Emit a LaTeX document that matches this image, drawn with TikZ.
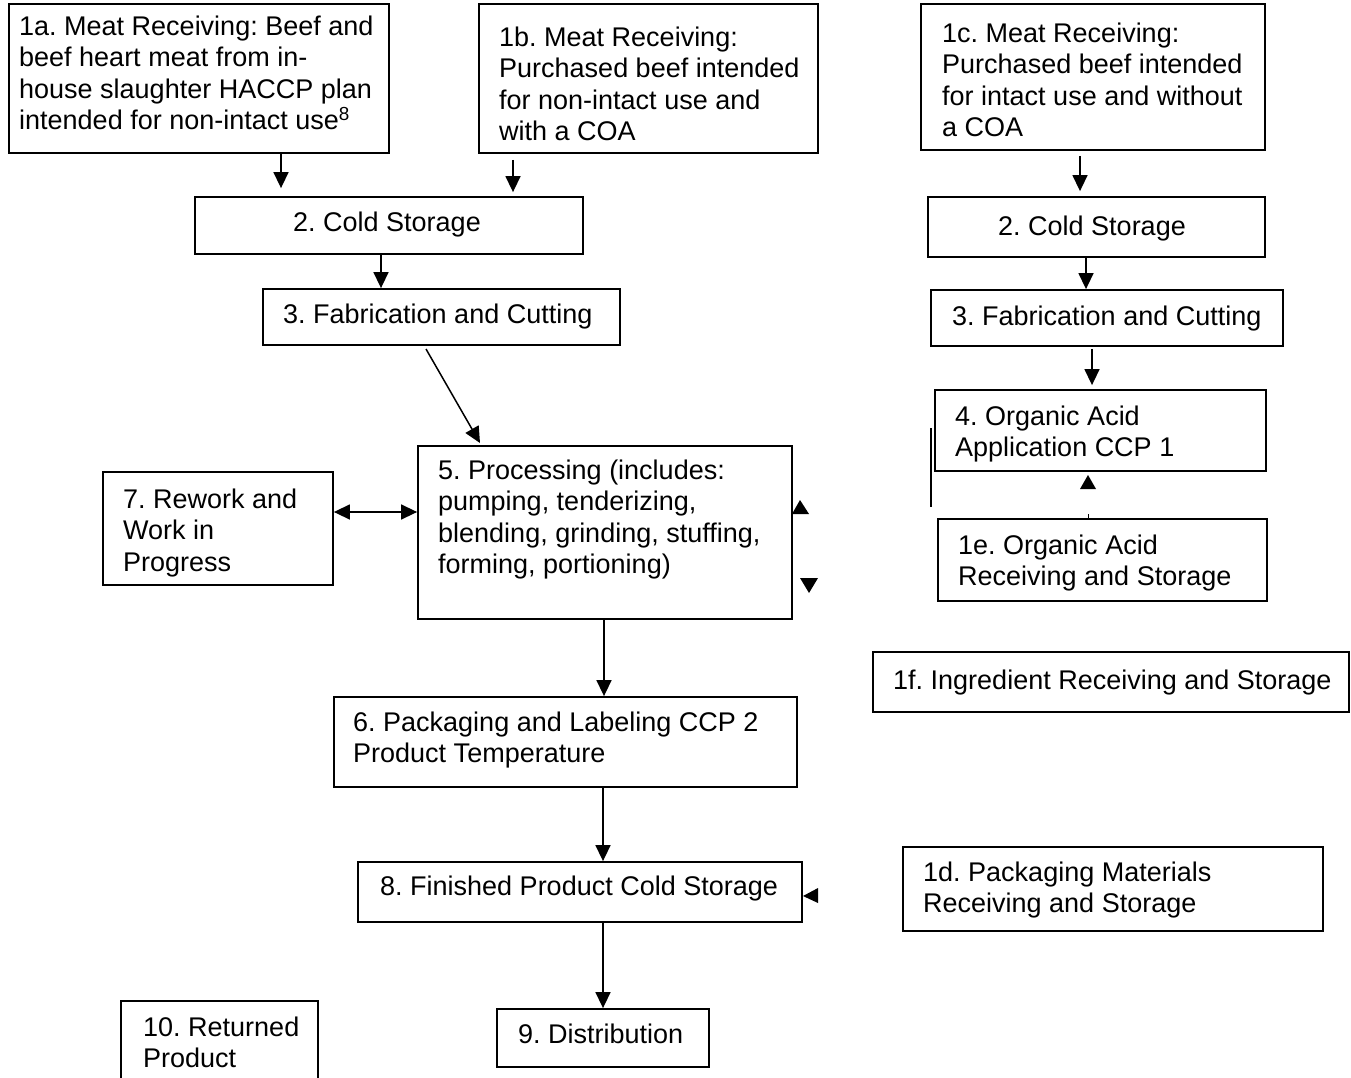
\documentclass[tikz,border=0pt]{standalone}
\usepackage{fontspec}
\setmainfont{Liberation Sans}
\usetikzlibrary{arrows.meta}
\newcommand\fl{\rule{0pt}{20pt}}
\frenchspacing
\tikzset{
  box/.style={draw, line width=1.8pt, inner sep=0pt},
  txt/.style={inner sep=0pt, anchor=north west, align=left, font=\fontsize{27}{31.5}\selectfont\frenchspacing},
  arr/.style={line width=1.5pt, -{Triangle[length=16pt,width=15pt]}},
  darr/.style={line width=1.5pt, {Triangle[length=16pt,width=15pt]}-{Triangle[length=16pt,width=15pt]}},
  head/.style={fill=black}
}
\newcommand\bx[5]{\node[box, minimum width=#4-#2, minimum height=#5-#3] (#1) at ({(#2+#4)/2},{(#3+#5)/2}) {};}
\begin{document}
\begin{tikzpicture}[x=1pt,y=-1pt]
\useasboundingbox[fill=white] (0,0) rectangle (1351,1078);
% boxes
\bx{b1a}{9}{4}{389}{153}
\bx{b1b}{479}{4}{818}{153}
\bx{b1c}{921}{4}{1265}{150}
\bx{b2L}{195}{197}{583}{254}
\bx{b3L}{263}{289}{620}{345}
\bx{b5}{418}{446}{792}{619}
\bx{b7}{103}{472}{333}{585}
\bx{b6}{334}{697}{797}{787}
\bx{b8}{358}{862}{802}{922}
\bx{b9}{497}{1009}{709}{1067}
\node[inner sep=0pt, minimum width=197, minimum height=77] (b10) at (219.5,1039.5) {};
\draw[line width=1.8pt] (b10.south west) -- (b10.north west) -- (b10.north east) -- (b10.south east);
\bx{b2R}{928}{197}{1265}{257}
\bx{b3R}{931}{290}{1283}{346}
\bx{b4}{935}{390}{1266}{471}
\bx{b1e}{938}{519}{1267}{601}
\bx{b1f}{873}{652}{1349}{712}
\bx{b1d}{903}{847}{1323}{931}
% texts
\node[txt] (t1a) at (19,15) {\fl 1a. Meat Receiving: Beef and\\beef heart meat from in-\\house slaughter HACCP plan\\intended for non-intact use\textsuperscript{8}};
\node[txt] (t1b) at (499,26) {\fl 1b. Meat Receiving:\\Purchased beef intended\\for non-intact use and\\with a COA};
\node[txt] (t1c) at (942,22) {\fl 1c. Meat Receiving:\\Purchased beef intended\\for intact use and without\\a COA};
\node[txt] (t2L) at (293,211) {\fl 2. Cold Storage};
\node[txt] (t3L) at (283,303) {\fl 3. Fabrication and Cutting};
\node[txt] (t5) at (438,459) {\fl 5. Processing (includes:\\pumping, tenderizing,\\blending, grinding, stuffing,\\forming, portioning)};
\node[txt] (t7) at (123,488) {\fl 7. Rework and\\Work in\\Progress};
\node[txt] (t6) at (353,711) {\fl 6. Packaging and Labeling CCP 2\\Product Temperature};
\node[txt] (t8) at (380,875) {\fl 8. Finished Product Cold Storage};
\node[txt] (t9) at (518,1023) {\fl 9. Distribution};
\node[txt] (t10) at (143,1016) {\fl 10. Returned\\Product};
\node[txt] (t2R) at (998,215) {\fl 2. Cold Storage};
\node[txt] (t3R) at (952,305) {\fl 3. Fabrication and Cutting};
\node[txt] (t4) at (955,405) {\fl 4. Organic Acid\\Application CCP 1};
\node[txt] (t1e) at (958,534) {\fl 1e. Organic Acid\\Receiving and Storage};
\node[txt] (t1f) at (893,669) {\fl 1f. Ingredient Receiving and Storage};
\node[txt] (t1d) at (923,861) {\fl 1d. Packaging Materials\\Receiving and Storage};
% x guides
\coordinate (x281) at (281,0);
\coordinate (x513) at (513,0);
\coordinate (x381) at (381,0);
\coordinate (x604) at (604,0);
\coordinate (x603) at (603,0);
\coordinate (x1080) at (1080,0);
\coordinate (x1086) at (1086,0);
\coordinate (x1092) at (1092,0);
\coordinate (y512) at (0,512);
% connectors
\draw[arr, shorten >=8pt] (b1a.south -| x281) -- (b2L.north -| x281);
\draw[arr, shorten <=6pt, shorten >=4pt] (b1b.south -| x513) -- (b2L.north -| x513);
\draw[arr] (b2L.south -| x381) -- (b3L.north -| x381);
\coordinate (s35) at (426,349);
\coordinate (e35) at (480,443);
\draw[arr] (s35) -- (e35);
\draw[darr] (b7.east |- y512) -- (b5.west |- y512);
\draw[arr] (b5.south -| x604) -- (b6.north -| x604);
\draw[arr] (b6.south -| x603) -- (b8.north -| x603);
\draw[arr] (b8.south -| x603) -- (b9.north -| x603);
\draw[arr, shorten <=5pt, shorten >=5pt] (b1c.south -| x1080) -- (b2R.north -| x1080);
\draw[arr] (b2R.south -| x1086) -- (b3R.north -| x1086);
\draw[arr, shorten <=2pt, shorten >=4pt] (b3R.south -| x1092) -- (b4.north -| x1092);
% stray marks
\fill[head] (800,500) -- (809,514) -- (792,514) -- cycle;
\fill[head] (809,593) -- (800,578) -- (818,578) -- cycle;
\fill[head] (803,896) -- (818,888) -- (818,903) -- cycle;
\fill[head] (1088,475) -- (1096,489) -- (1080,489) -- cycle;
\draw[line width=1.5pt] (931,428) -- (931,507);
\draw[line width=0.8pt] (1088,514) -- (1088,518);
\end{tikzpicture}
\end{document}
